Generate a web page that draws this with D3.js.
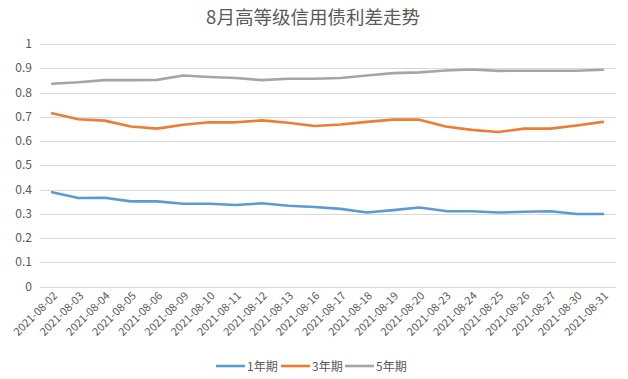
<!DOCTYPE html>
<html>
<head>
<meta charset="utf-8">
<script src="https://cdn.jsdelivr.net/npm/d3@7"></script>
<style>
  body { margin: 0; background: #fff; }
  svg { display: block; font-family: "Noto Sans CJK SC", "Noto Sans", sans-serif; }
</style>
</head>
<body>
<script>
const dates = ["2021-08-02", "2021-08-03", "2021-08-04", "2021-08-05", "2021-08-06", "2021-08-09",
  "2021-08-10", "2021-08-11", "2021-08-12", "2021-08-13", "2021-08-16", "2021-08-17",
  "2021-08-18", "2021-08-19", "2021-08-20", "2021-08-23", "2021-08-24", "2021-08-25",
  "2021-08-26", "2021-08-27", "2021-08-30", "2021-08-31"];

const y1 = [0.389, 0.365, 0.366, 0.351, 0.351, 0.341, 0.341, 0.336, 0.343, 0.333, 0.328,
  0.320, 0.305, 0.315, 0.326, 0.311, 0.310, 0.305, 0.308, 0.310, 0.299, 0.299];
const y3 = [0.714, 0.690, 0.684, 0.660, 0.651, 0.667, 0.677, 0.677, 0.685, 0.675, 0.662,
  0.668, 0.679, 0.688, 0.688, 0.660, 0.646, 0.637, 0.651, 0.651, 0.664, 0.679];
const y5 = [0.836, 0.842, 0.851, 0.851, 0.852, 0.870, 0.864, 0.860, 0.851, 0.857, 0.857,
  0.860, 0.870, 0.880, 0.883, 0.891, 0.895, 0.889, 0.890, 0.890, 0.890, 0.894];

const seriesNames = ["1年期", "3年期", "5年期"];
const colors = ["#5B9BD5", "#ED7D31", "#A5A5A5"];
const yTicks = [0, 0.1, 0.2, 0.3, 0.4, 0.5, 0.6, 0.7, 0.8, 0.9, 1];

const width = 628, height = 379;
const margin = { top: 44, right: 12, bottom: 92.5, left: 39 };

const svg = d3.select("body").append("svg")
  .attr("width", width).attr("height", height);

const x = d3.scaleBand().domain(dates).range([margin.left, width - margin.right]);
const y = d3.scaleLinear().domain([0, 1]).range([height - margin.bottom, margin.top]);

// title
svg.append("text")
  .attr("x", 313).attr("y", 24)
  .attr("text-anchor", "middle")
  .attr("font-size", "18.5px")
  .attr("fill", "#595959")
  .text("8月高等级信用债利差走势");

// gridlines
svg.append("g")
  .selectAll("line")
  .data(yTicks)
  .enter()
  .append("line")
  .attr("x1", margin.left + 1)
  .attr("x2", width - margin.right)
  .attr("y1", (d) => Math.round(y(d)) + 0.5)
  .attr("y2", (d) => Math.round(y(d)) + 0.5)
  .attr("stroke", "#D9D9D9")
  .attr("stroke-width", 1);

// y labels
svg.append("g")
  .selectAll("text")
  .data(yTicks)
  .enter()
  .append("text")
  .attr("x", 32)
  .attr("y", (d) => y(d) + 4)
  .attr("text-anchor", "end")
  .attr("font-size", "12px")
  .attr("fill", "#595959")
  .text((d) => d3.format("~g")(d));

// x labels, rotated -45
svg.append("g")
  .selectAll("text")
  .data(dates)
  .enter()
  .append("text")
  .attr("transform", (d) => `translate(${x(d) + x.bandwidth() / 2 + 6},${height - margin.bottom + 10}) rotate(-45)`)
  .attr("text-anchor", "end")
  .attr("font-size", "11px")
  .attr("fill", "#595959")
  .text((d) => d);

// lines
const line = d3.line()
  .x((d, i) => x(dates[i]) + x.bandwidth() / 2)
  .y((d) => y(d));

[y1, y3, y5].forEach((vals, k) => {
  svg.append("path")
    .datum(vals)
    .attr("d", line)
    .attr("fill", "none")
    .attr("stroke", colors[k])
    .attr("stroke-width", 2.6)
    .attr("stroke-linejoin", "round")
    .attr("stroke-linecap", "round");
});

// legend
const legendX = [216, 281, 345];
const legend = svg.append("g")
  .selectAll("g")
  .data(seriesNames)
  .enter()
  .append("g")
  .attr("transform", (d, i) => `translate(${legendX[i]},366)`);

legend.append("line")
  .attr("x1", 0).attr("x2", 29)
  .attr("stroke", (d, i) => colors[i])
  .attr("stroke-width", 2.6);

legend.append("text")
  .attr("x", 31).attr("y", 4.5)
  .attr("font-size", "12px")
  .attr("fill", "#595959")
  .text((d) => d);
</script>
</body>
</html>
